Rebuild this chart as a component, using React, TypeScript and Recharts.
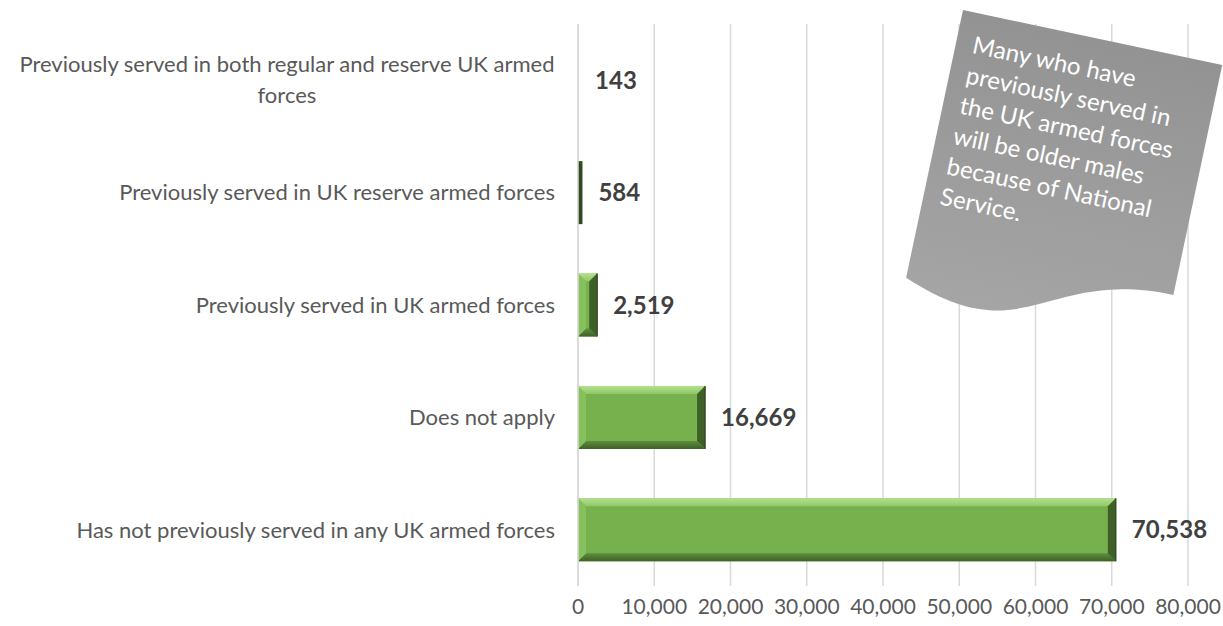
import { BarChart, Bar, XAxis, YAxis, CartesianGrid, LabelList } from 'recharts'

const categories = [
  'Previously served in both regular and reserve UK armed forces',
  'Previously served in UK reserve armed forces',
  'Previously served in UK armed forces',
  'Does not apply',
  'Has not previously served in any UK armed forces',
]
const counts = [143, 584, 2519, 16669, 70538]
const xTicks = [0, 10000, 20000, 30000, 40000, 50000, 60000, 70000, 80000]
const noteLines = [
  'Many who have',
  'previously served in',
  'the UK armed forces',
  'will be older males',
  'because of National',
  'Service.',
]

const FONT = 'Lato, "Liberation Sans", sans-serif'
const TICK_SIZE = 22

const chartData = categories.map((name, i) => ({ name, count: counts[i] }))

let ctx: CanvasRenderingContext2D | null = null
function measure(text: string, font: string) {
  if (!ctx) ctx = document.createElement('canvas').getContext('2d')
  if (!ctx) return text.length * 10
  ctx.font = font
  return ctx.measureText(text).width
}

function wrap(text: string, maxWidth: number) {
  const font = `${TICK_SIZE}px Lato`
  const words = text.split(' ')
  const lines: string[] = []
  let cur = ''
  for (const w of words) {
    const next = cur ? cur + ' ' + w : w
    if (cur && measure(next, font) > maxWidth) {
      lines.push(cur)
      cur = w
    } else cur = next
  }
  if (cur) lines.push(cur)
  return lines
}

function CategoryTick(props: any) {
  const { x, y, payload } = props
  const lines = wrap(payload.value, 560)
  const lh = 31
  if (lines.length === 1) {
    return (
      <text x={x} y={y} dy="0.35em" textAnchor="end" fill="#595959" fontSize={TICK_SIZE} fontFamily={FONT}>
        {lines[0]}
      </text>
    )
  }
  const maxW = Math.max(...lines.map((l) => measure(l, `${TICK_SIZE}px Lato`)))
  const cx = x - maxW / 2
  const y0 = y - ((lines.length - 1) * lh) / 2
  return (
    <text textAnchor="middle" fill="#595959" fontSize={TICK_SIZE} fontFamily={FONT}>
      {lines.map((l, i) => (
        <tspan key={i} x={cx} y={y0 + i * lh} dy="0.35em">
          {l}
        </tspan>
      ))}
    </text>
  )
}

// bevelled bar, like the Excel "angle" bevel
function BevelBar(props: any) {
  const { x, y, width, height } = props
  if (!width || width < 2) return null
  if (width < 6) {
    return <rect x={x} y={y} width={width} height={height} fill="#2f4a1e" />
  }
  const b = Math.min(8, width / 2, height / 2)
  const r = x + width
  const btm = y + height
  return (
    <g>
      <rect x={x} y={y} width={width} height={height} fill="#76b14e" />
      <polygon points={`${x},${y} ${r},${y} ${r - b},${y + b} ${x + b},${y + b}`} fill="url(#bevelTop)" />
      <polygon points={`${x},${btm} ${r},${btm} ${r - b},${btm - b} ${x + b},${btm - b}`} fill="url(#bevelBottom)" />
      <polygon points={`${x},${y} ${x + b},${y + b} ${x + b},${btm - b} ${x},${btm}`} fill="#86c05d" />
      <polygon points={`${r},${y} ${r - b},${y + b} ${r - b},${btm - b} ${r},${btm}`} fill="#3f5f29" />
      <line x1={r} y1={y} x2={r} y2={btm} stroke="#2c4419" strokeWidth={1.2} />
    </g>
  )
}

function Note() {
  // flowchart "document" shape, tilted
  const w = 265
  const h = 293
  const path = `M0,0 L${w},0 L${w},${h * 0.802} C${w / 2},${h * 0.802} ${w / 2},${h * 1.1075} 0,${h * 0.934} Z`
  return (
    <svg width={1223} height={626} style={{ position: 'absolute', left: 0, top: 0, pointerEvents: 'none' }}>
      <defs>
        <linearGradient id="noteFill" x1="0" y1="0" x2="0" y2="1">
          <stop offset="0%" stopColor="#939393" />
          <stop offset="100%" stopColor="#a5a5a5" />
        </linearGradient>
      </defs>
      <g transform="translate(963,10) rotate(12)">
        <path d={path} fill="url(#noteFill)" />
        <text fill="#ffffff" fontSize={24} fontFamily={FONT}>
          {noteLines.map((l, i) => (
            <tspan key={i} x={17} y={40 + i * 31}>
              {l}
            </tspan>
          ))}
        </text>
      </g>
    </svg>
  )
}

export default function App() {
  return (
    <div style={{ position: 'absolute', left: 0, top: 0, width: 1223, height: 626, background: '#fff' }}>
      <BarChart
        width={1223}
        height={626}
        data={chartData}
        layout="vertical"
        barCategoryGap="22%"
        margin={{ top: 24, right: 35, left: 0, bottom: 10 }}
      >
        <defs>
          <linearGradient id="bevelTop" x1="0" y1="0" x2="0" y2="1">
            <stop offset="0%" stopColor="#b5e08f" />
            <stop offset="100%" stopColor="#8fc767" />
          </linearGradient>
          <linearGradient id="bevelBottom" x1="0" y1="0" x2="0" y2="1">
            <stop offset="0%" stopColor="#5e8e3c" />
            <stop offset="100%" stopColor="#3e6027" />
          </linearGradient>
        </defs>
        <CartesianGrid horizontal={false} stroke="#d9d9d9" strokeWidth={1.5} />
        <XAxis
          type="number"
          domain={[0, 80000]}
          ticks={xTicks}
          axisLine={false}
          tickLine={false}
          tickMargin={7}
          tickFormatter={(v: number) => v.toLocaleString('en-US')}
          tick={{ fill: '#595959', fontSize: 21, fontFamily: FONT }}
        />
        <YAxis
          type="category"
          dataKey="name"
          width={578}
          axisLine={{ stroke: '#d9d9d9', strokeWidth: 1.5 }}
          tickLine={false}
          tickMargin={17}
          interval={0}
          tick={<CategoryTick />}
        />
        <Bar dataKey="count" shape={<BevelBar />} isAnimationActive={false}>
          <LabelList
            dataKey="count"
            position="right"
            offset={16}
            formatter={(v: any) => Number(v).toLocaleString('en-US')}
            style={{ fill: '#404040', fontSize: 24, fontWeight: 700, fontFamily: FONT }}
          />
        </Bar>
      </BarChart>
      <Note />
    </div>
  )
}
